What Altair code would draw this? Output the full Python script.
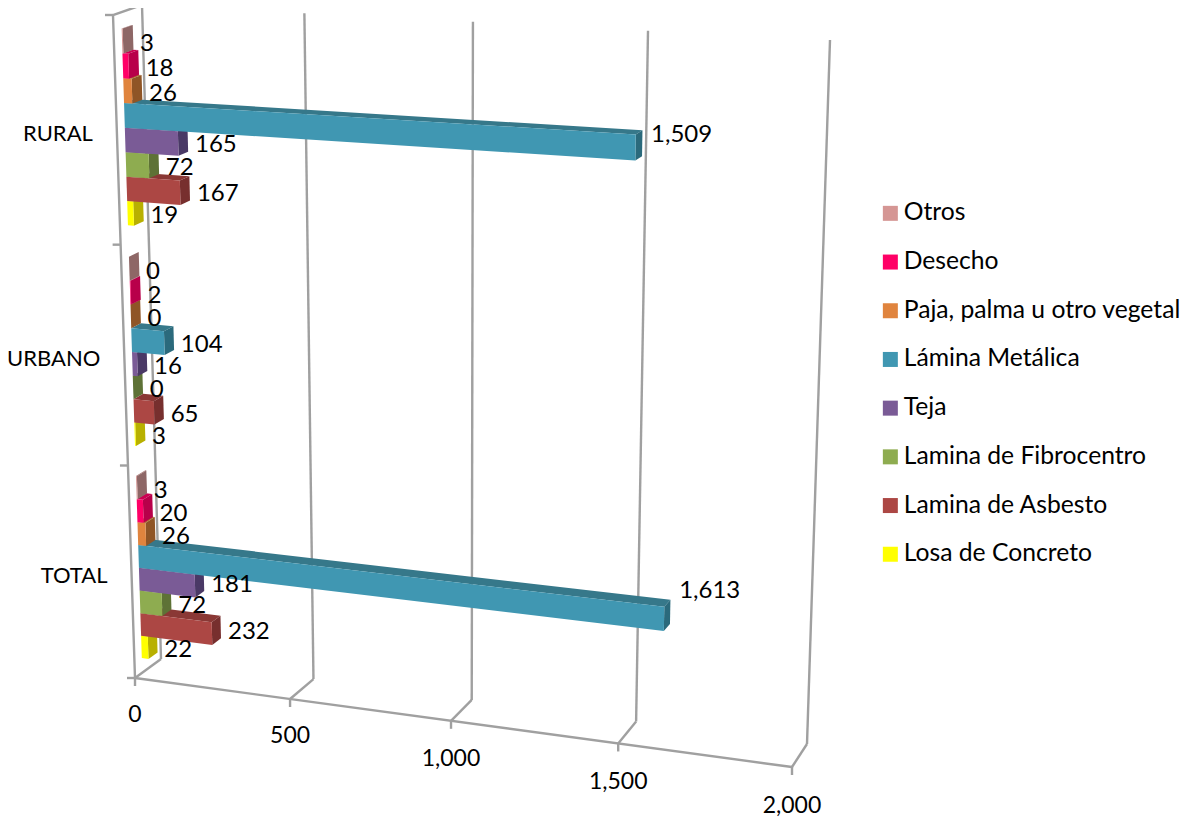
import altair as alt
import numpy as np
import pandas as pd

categories = ["RURAL", "URBANO", "TOTAL"]
series = ["Otros", "Desecho", "Paja, palma u otro vegetal", "Lámina Metálica", "Teja",
          "Lamina de Fibrocentro", "Lamina de Asbesto", "Losa de Concreto"]
rural = [3, 18, 26, 1509, 165, 72, 167, 19]
urbano = [0, 2, 0, 104, 16, 0, 65, 3]
total = [3, 20, 26, 1613, 181, 72, 232, 22]
front_colors = ["#D59694", "#FF0066", "#E0843E", "#4097B2", "#7A5B96", "#8EAC50", "#AC4744", "#FFFF00"]
top_colors = ["#A87472", "#CC0052", "#B06A30", "#36788A", "#604878", "#6F8A3E", "#8A3835", "#CCCC00"]
side_colors = ["#8E6766", "#B8004A", "#8F5526", "#2B6A7C", "#4A3966", "#5E7236", "#772F2E", "#B8B000"]
x_ticks = [0, 500, 1000, 1500, 2000]
x_tick_labels = ["0", "500", "1,000", "1,500", "2,000"]

FONT = "Lato"
FS = 24
GRID = "#A0A0A0"

# Perspective box of the 3-D plot: (value, height, depth) -> picture position
F00, F10, F01, F11 = map(np.array, [(135, 678), (792, 767), (113, 15), (814, 50)])
B00, B10, B01, B11 = map(np.array, [(161, 659), (807, 744), (142, 5), (830, 40)])


def warp(r, k):
    return r / (1 + k * (1 - r))


def P(v, h, d):
    s = warp(v / 2000, 0.079)
    t = warp(h, 0.06)
    f = (1 - t) * ((1 - s) * F00 + s * F10) + t * ((1 - s) * F01 + s * F11)
    b = (1 - t) * ((1 - s) * B00 + s * B10) + t * ((1 - s) * B01 + s * B11)
    return ((1 - d) * f + d * b).tolist()


def feature(coords, fill=None, closed=True):
    if closed:
        geom = {"type": "Polygon", "coordinates": [coords + [coords[0]]]}
    else:
        geom = {"type": "LineString", "coordinates": coords}
    return {"type": "Feature", "geometry": geom, "properties": {"fill": fill or "none"}}


D0, D1 = 0.28, 0.63
MARGIN, BAR = 0.07, 0.1075

faces, labels = [], []
for c, (cat, vals) in enumerate(zip(categories, [rural, urbano, total])):
    base = 2 - c
    # lower bars are painted first: each bar hides the top face of the one below it
    for i in range(7, -1, -1):
        v = vals[i]
        idx = 7 - i
        h0 = (base + MARGIN + idx * BAR) / 3
        h1 = (base + MARGIN + (idx + 1) * BAR) / 3
        faces.append(feature([P(0, h1, D0), P(v, h1, D0), P(v, h1, D1), P(0, h1, D1)], top_colors[i]))
        faces.append(feature([P(v, h0, D0), P(v, h0, D1), P(v, h1, D1), P(v, h1, D0)], side_colors[i]))
        faces.append(feature([P(0, h0, D0), P(v, h0, D0), P(v, h1, D0), P(0, h1, D0)], front_colors[i]))
        hm = (h0 + h1) / 2
        tip = P(v, hm, D1)
        front = P(v, hm, D0)
        labels.append({"x": tip[0] + 7 + v * 0.0012, "y": front[1] + 3 - v * (0.0215 - 0.0136 * hm),
                       "text": f"{v:,}"})

grid = []
for v in x_ticks:
    grid.append(feature([P(v, 0, 1), P(v, 1, 1)], closed=False))
    grid.append(feature([P(v, 0, 0), P(v, 0, 1)], closed=False))
    p = P(v, 0, 0)
    grid.append(feature([p, [p[0], p[1] + 8]], closed=False))
grid.append(feature([P(0, 0, 0), P(2000, 0, 0)], closed=False))
grid.append(feature([P(0, 0, 0), P(0, 1, 0), P(0, 1, 1)], closed=False))
for k in range(4):
    p = P(0, k / 3, 0)
    grid.append(feature([[p[0] - 8, p[1]], p], closed=False))

tick_df = pd.DataFrame([{"x": P(v, 0, 0)[0], "y": P(v, 0, 0)[1] + 37 + v * 0.0008, "text": t}
                        for v, t in zip(x_ticks, x_tick_labels)])
cat_df = pd.DataFrame([{"x": P(0, (2.5 - c) / 3, 0)[0] - 24, "y": P(0, (2.5 - c) / 3, 0)[1] + 3, "text": n}
                       for c, n in enumerate(categories)])
label_df = pd.DataFrame(labels)
legend_df = pd.DataFrame({"series": series})

proj = dict(type="identity", scale=1, translate=[-8, -8])
X = lambda: alt.X("x:Q", scale=alt.Scale(domain=[8, 1183], nice=False, zero=False), axis=None)
Y = lambda: alt.Y("y:Q", scale=alt.Scale(domain=[817, 8], nice=False, zero=False), axis=None)

grid_layer = alt.Chart(alt.Data(values=grid)).mark_geoshape(
    filled=False, stroke=GRID, strokeWidth=2.4).project(**proj)
bar_layer = alt.Chart(alt.Data(values=faces)).mark_geoshape(strokeWidth=0).encode(
    fill=alt.Fill("properties.fill:N", scale=None)).project(**proj)


def text_layer(df, align, size=FS):
    return alt.Chart(df).mark_text(font=FONT, fontSize=size, color="#000000", align=align, baseline="middle").encode(
        x=X(), y=Y(), text="text:N")


legend_layer = alt.Chart(legend_df).mark_square(opacity=0, size=1).encode(
    x=alt.value(-50), y=alt.value(-50),
    color=alt.Color("series:N", scale=alt.Scale(domain=series, range=front_colors), legend=alt.Legend(
        title=None, orient="none", legendX=870, legendY=193, symbolType="square", symbolSize=225,
        symbolOpacity=1, symbolStrokeWidth=0, labelFont=FONT, labelFontSize=24.7, labelColor="#000000",
        rowPadding=22.7, labelOffset=1, labelLimit=320, symbolLimit=8)))

chart = alt.layer(
    grid_layer, bar_layer,
    text_layer(label_df, "left"), text_layer(tick_df, "center", 23), text_layer(cat_df, "right", 22),
    legend_layer,
).resolve_scale(color="independent").properties(
    width=1175, height=809, padding=0, autosize=alt.AutoSizeParams(type="none"),
    background="#FFFFFF", view=alt.ViewConfig(stroke=None))

chart.save("out.html", embed_options={"renderer": "svg", "actions": False})
